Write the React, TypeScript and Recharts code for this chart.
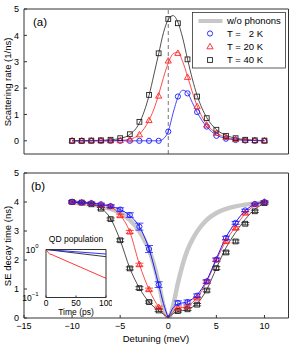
import React from "react";
import {
  ComposedChart,
  Line,
  Scatter,
  XAxis,
  YAxis,
  ReferenceLine,
  ErrorBar,
} from "recharts";

const FONT = '"Liberation Sans", Arial, Helvetica, sans-serif';
const BLUE = "#1a1aff";
const RED = "#ff2020";
const BLACK = "#222222";
const GRAY = "#c8c8c8";

// detuning (meV) where the markers sit
const detuning = [-10, -9, -8, -7, -6, -5, -4, -3, -2, -1, 0, 1, 2, 3, 4, 5, 6, 7, 8, 9, 10];
const detuningB = [-10, -9, -8, -7, -6, -5, -4, -3, -2, -1, 1, 2, 3, 4, 5, 6, 7, 8, 9, 10];

// (a) scattering rate markers (1/ns)
const rate2K = [0, 0, 0, 0, 0, 0, 0, 0, 0, 0, 0.35, 1.68, 1.8, 1.09, 0.54, 0.19, 0.08, 0.03, 0.01, 0, 0];
const rate20K = [0, 0, 0, 0, 0, 0.01, 0.04, 0.23, 0.77, 1.7, 3.03, 3.32, 2.41, 1.3, 0.6, 0.29, 0.13, 0.05, 0.02, 0.01, 0];
const rate40K = [0, 0, 0.01, 0.02, 0.04, 0.1, 0.25, 0.72, 1.74, 3.32, 4.62, 4.46, 3.09, 1.68, 0.86, 0.42, 0.19, 0.1, 0.04, 0.02, 0.01];

// (a) theory curves
const curveXA = [-10, -9, -8, -7, -6, -5, -4, -3, -2, -1.5, -1, -0.5, 0, 0.5, 1, 1.5, 2, 2.5, 3, 4, 5, 6, 7, 8, 9, 10];
const curve2K = [0, 0, 0, 0, 0, 0, 0, 0, 0, 0, 0, 0.08, 0.36, 1.05, 1.65, 1.92, 1.82, 1.45, 1.08, 0.53, 0.22, 0.09, 0.04, 0.02, 0.01, 0];
const curve20K = [0, 0, 0, 0, 0.005, 0.015, 0.06, 0.25, 0.78, 1.2, 1.75, 2.4, 2.95, 3.3, 3.36, 3.0, 2.45, 1.85, 1.32, 0.62, 0.3, 0.13, 0.06, 0.03, 0.01, 0];
const curve40K = [0, 0.005, 0.01, 0.02, 0.04, 0.09, 0.24, 0.68, 1.72, 2.5, 3.3, 4.1, 4.6, 4.75, 4.5, 3.9, 3.1, 2.35, 1.72, 0.88, 0.43, 0.21, 0.1, 0.05, 0.02, 0.01];

// (b) SE decay time markers (ns) and error bars
const se2K = [4.0, 3.98, 3.96, 3.92, 3.86, 3.74, 3.55, 3.15, 2.38, 1.15, 0.52, 0.55, 0.77, 1.26, 2.01, 2.76, 3.28, 3.71, 3.93, 4.0];
const err2K = [0.03, 0.03, 0.03, 0.04, 0.05, 0.06, 0.08, 0.12, 0.12, 0.1, 0.07, 0.07, 0.06, 0.06, 0.06, 0.06, 0.05, 0.04, 0.03, 0.03];
const se20K = [4.0, 3.98, 3.96, 3.9, 3.84, 3.53, 2.97, 1.84, 0.98, 0.37, 0.34, 0.4, 0.69, 1.25, 2.01, 2.64, 3.1, 3.62, 3.91, 4.0];
const err20K = [0.04, 0.04, 0.04, 0.04, 0.04, 0.05, 0.05, 0.05, 0.05, 0.04, 0.04, 0.04, 0.04, 0.05, 0.05, 0.05, 0.05, 0.04, 0.04, 0.04];
const se40K = [4.0, 3.98, 3.92, 3.77, 3.41, 2.68, 1.71, 1.03, 0.55, 0.26, 0.24, 0.3, 0.46, 0.95, 1.72, 2.26, 2.64, 3.25, 3.68, 3.96];
const err40K = [0.04, 0.04, 0.04, 0.04, 0.04, 0.05, 0.05, 0.05, 0.04, 0.04, 0.04, 0.04, 0.04, 0.05, 0.05, 0.05, 0.05, 0.04, 0.04, 0.04];

// (b) theory curves, split at zero detuning
const leftX = [-10, -9, -8, -7, -6, -5, -4, -3, -2, -1, -0.5, 0];
const rightX = [0, 0.5, 1, 2, 3, 4, 5, 6, 7, 8, 9, 10];
const se2KLeft = [4.0, 3.98, 3.96, 3.92, 3.86, 3.74, 3.53, 3.15, 2.38, 1.15, 0.5, 0];
const se2KRight = [0, 0.35, 0.48, 0.56, 0.8, 1.3, 2.05, 2.78, 3.3, 3.7, 3.92, 4.0];
const se20KLeft = [4.0, 3.98, 3.96, 3.91, 3.83, 3.55, 2.97, 1.85, 0.98, 0.38, 0.16, 0];
const se20KRight = [0, 0.22, 0.32, 0.42, 0.7, 1.25, 2.0, 2.66, 3.15, 3.6, 3.88, 4.0];
const se40KLeft = [4.0, 3.98, 3.93, 3.79, 3.43, 2.68, 1.72, 1.03, 0.55, 0.25, 0.13, 0];
const se40KRight = [0, 0.15, 0.22, 0.3, 0.5, 0.98, 1.72, 2.42, 2.95, 3.4, 3.75, 3.95];

// (b) without phonons
const bareX = [0, 0.25, 0.5, 1, 1.5, 2, 2.5, 3, 4, 5, 6, 7, 8, 9, 10];
const bareSE = [0, 0.12, 0.42, 1.2, 1.85, 2.35, 2.7, 2.98, 3.38, 3.62, 3.76, 3.85, 3.91, 3.95, 3.98];

// inset: QD population vs time (ps)
const popT2K = [0, 100];
const pop2K = [1.0, 0.805];
const popT20K = [0, 3, 6, 10, 13, 100];
const pop20K = [1.0, 0.88, 0.81, 0.78, 0.75, 0.251];
const popT40K = [0, 100];
const pop40K = [1.0, 0.708];

const xTicks = [-15, -10, -5, 0, 5, 10];
const yTicks = [0, 1, 2, 3, 4, 5];

const pts = (xs: number[], ys: number[], es?: number[]) =>
  xs.map((x, i) => ({ x, y: ys[i], e: es ? es[i] : 0 }));

const circle = (color: string) => (p: any) =>
  <circle cx={p.cx} cy={p.cy} r={2.6} fill="none" stroke={color} strokeWidth={0.9} />;
const triangle = (color: string) => (p: any) =>
  <path d={`M${p.cx},${p.cy - 3.3}L${p.cx - 3.1},${p.cy + 2.1}L${p.cx + 3.1},${p.cy + 2.1}Z`} fill="none" stroke={color} strokeWidth={0.9} />;
const square = (color: string) => (p: any) =>
  <rect x={p.cx - 2.4} y={p.cy - 2.4} width={4.8} height={4.8} fill="none" stroke={color} strokeWidth={0.9} />;

const minus = (v: number) => String(v).replace("-", "\u2212");
const tickStyle = { fontSize: 9, fill: "#000", fontFamily: FONT };

function Axes({ xLabels, yDomain }: { xLabels: boolean; yDomain: number[] }) {
  return null;
}

function frame(xLabels: boolean, yDomain: number[], xHeight: number) {
  return [
    <XAxis key="xb" dataKey="x" type="number" domain={[-15, 12.5]} ticks={xTicks} interval={0}
      tickFormatter={minus} tick={xLabels ? tickStyle : false} tickSize={-3} tickMargin={8}
      height={xHeight} stroke="#333" allowDataOverflow />,
    <XAxis key="xt" xAxisId="top" orientation="top" dataKey="x" type="number" domain={[-15, 12.5]}
      ticks={xTicks} interval={0} tick={false} tickSize={-3} height={1} stroke="#333" allowDataOverflow />,
    <YAxis key="yl" type="number" domain={yDomain} ticks={yTicks} interval={0} tick={tickStyle}
      tickSize={-3} tickMargin={8} width={24} stroke="#333" allowDataOverflow />,
    <YAxis key="yr" yAxisId="right" orientation="right" type="number" domain={yDomain} ticks={yTicks}
      interval={0} tick={false} tickSize={-3} width={1} stroke="#333" allowDataOverflow />,
  ];
}

const LogTick = (p: any) => {
  const exp = p.payload.value >= 1 ? "0" : "\u22121";
  return (
    <text x={p.x} y={p.y} textAnchor="end" dominantBaseline="central" fontSize={8.5} fontFamily={FONT} fill="#000">
      10<tspan dy={-3.5} fontSize={6}>{exp}</tspan>
    </text>
  );
};

export default function App() {
  return (
    <div style={{ position: "absolute", left: 0, top: 0, width: 291, height: 347, background: "#fff" }}>
      {/* panel (a) */}
      <div style={{ position: "absolute", left: 0, top: 0 }}>
        <ComposedChart width={291} height={165} margin={{ top: 8, right: 1.5, bottom: 0, left: 0 }}>
          {frame(false, [-0.5, 5], 11)}
          <ReferenceLine x={0} stroke="#666" strokeDasharray="4 3" strokeWidth={0.9} />
          <Line data={pts(curveXA, curve40K)} dataKey="y" type="monotone" stroke={BLACK} strokeWidth={0.8} dot={false} isAnimationActive={false} />
          <Line data={pts(curveXA, curve20K)} dataKey="y" type="monotone" stroke={RED} strokeWidth={0.8} dot={false} isAnimationActive={false} />
          <Line data={pts(curveXA, curve2K)} dataKey="y" type="monotone" stroke={BLUE} strokeWidth={0.8} dot={false} isAnimationActive={false} />
          <Scatter data={pts(detuning, rate2K)} dataKey="y" shape={circle(BLUE)} isAnimationActive={false} />
          <Scatter data={pts(detuning, rate20K)} dataKey="y" shape={triangle(RED)} isAnimationActive={false} />
          <Scatter data={pts(detuning, rate40K)} dataKey="y" shape={square(BLACK)} isAnimationActive={false} />
        </ComposedChart>
      </div>

      {/* panel (b) */}
      <div style={{ position: "absolute", left: 0, top: 165 }}>
        <ComposedChart width={291} height={182} margin={{ top: 7, right: 1.5, bottom: 0, left: 0 }}>
          {frame(true, [0, 5], 29)}
          <Line data={pts(bareX.map((v) => -v), bareSE)} dataKey="y" type="monotone" stroke={GRAY} strokeWidth={4.5} dot={false} isAnimationActive={false} />
          <Line data={pts(bareX, bareSE)} dataKey="y" type="monotone" stroke={GRAY} strokeWidth={4.5} dot={false} isAnimationActive={false} />
          <Line data={pts(leftX, se40KLeft)} dataKey="y" type="monotone" stroke={BLACK} strokeWidth={0.8} dot={false} isAnimationActive={false} />
          <Line data={pts(rightX, se40KRight)} dataKey="y" type="monotone" stroke={BLACK} strokeWidth={0.8} dot={false} isAnimationActive={false} />
          <Line data={pts(leftX, se20KLeft)} dataKey="y" type="monotone" stroke={RED} strokeWidth={0.8} dot={false} isAnimationActive={false} />
          <Line data={pts(rightX, se20KRight)} dataKey="y" type="monotone" stroke={RED} strokeWidth={0.8} dot={false} isAnimationActive={false} />
          <Line data={pts(leftX, se2KLeft)} dataKey="y" type="monotone" stroke={BLUE} strokeWidth={1} dot={false} isAnimationActive={false} />
          <Line data={pts(rightX, se2KRight)} dataKey="y" type="monotone" stroke={BLUE} strokeWidth={1} dot={false} isAnimationActive={false} />
          <Scatter data={pts(detuningB, se40K, err40K)} dataKey="y" shape={square(BLACK)} isAnimationActive={false}>
            <ErrorBar dataKey="e" direction="y" width={4} stroke={BLACK} strokeWidth={0.8} />
          </Scatter>
          <Scatter data={pts(detuningB, se20K, err20K)} dataKey="y" shape={triangle(RED)} isAnimationActive={false}>
            <ErrorBar dataKey="e" direction="y" width={4} stroke={RED} strokeWidth={0.8} />
          </Scatter>
          <Scatter data={pts(detuningB, se2K, err2K)} dataKey="y" shape={circle(BLUE)} isAnimationActive={false}>
            <ErrorBar dataKey="e" direction="y" width={4} stroke={BLUE} strokeWidth={0.8} />
          </Scatter>
        </ComposedChart>
      </div>

      {/* inset */}
      <div style={{ position: "absolute", left: 20, top: 235 }}>
        <ComposedChart width={92} height={85} margin={{ top: 13.5, right: 5, bottom: 0, left: 0 }}>
          <XAxis dataKey="x" type="number" domain={[0, 100]} ticks={[0, 50, 100]} interval={0}
            tick={{ fontSize: 8.5, fill: "#000", fontFamily: FONT }} tickSize={-2} tickMargin={4}
            height={22.5} stroke="#333" />
          <XAxis xAxisId="top" orientation="top" dataKey="x" type="number" domain={[0, 100]} ticks={[0, 50, 100]}
            tick={false} tickSize={-2} height={1} stroke="#333" />
          <YAxis scale="log" type="number" domain={[0.1, 1]} ticks={[0.1, 1]} interval={0} tick={<LogTick />}
            tickSize={-2} tickMargin={9.5} width={26} stroke="#333" allowDataOverflow />
          <YAxis yAxisId="right" orientation="right" scale="log" type="number" domain={[0.1, 1]} ticks={[0.1, 1]}
            tick={false} tickSize={-2} width={1} stroke="#333" allowDataOverflow />
          <Line data={pts(popT40K, pop40K)} dataKey="y" type="linear" stroke={BLACK} strokeWidth={0.9} dot={false} isAnimationActive={false} />
          <Line data={pts(popT2K, pop2K)} dataKey="y" type="linear" stroke={BLUE} strokeWidth={0.9} dot={false} isAnimationActive={false} />
          <Line data={pts(popT20K, pop20K)} dataKey="y" type="linear" stroke={RED} strokeWidth={0.9} dot={false} isAnimationActive={false} />
        </ComposedChart>
      </div>

      {/* labels and legend */}
      <svg width={291} height={347} style={{ position: "absolute", left: 0, top: 0, pointerEvents: "none" }} fontFamily={FONT}>
        <text transform="translate(7,82) rotate(-90)" textAnchor="middle" dominantBaseline="central" fontSize={9.5}>
          Scattering rate (1/ns)
        </text>
        <text transform="translate(7,246) rotate(-90)" textAnchor="middle" dominantBaseline="central" fontSize={9.5}>
          SE decay time (ns)
        </text>
        <text x={33} y={26} fontSize={11.5}>(a)</text>
        <text x={31} y={189.5} fontSize={11.5}>(b)</text>
        <text x={156} y={342} textAnchor="middle" fontSize={9.5}>Detuning (meV)</text>
        <text x={76} y={242} textAnchor="middle" fontSize={8.5}>QD population</text>
        <text x={76} y={315} textAnchor="middle" fontSize={8.5}>Time (ps)</text>

        <rect x={192.5} y={12.5} width={93} height={55.5} fill="#fff" stroke="#333" strokeWidth={0.8} />
        <line x1={198.5} y1={21} x2={222.5} y2={21} stroke={GRAY} strokeWidth={4} />
        <text x={227} y={24.3} fontSize={9.5}>w/o phonons</text>
        {circle(BLUE)({ cx: 210, cy: 33.5 })}
        <text x={227} y={36.8} fontSize={9.5} style={{ whiteSpace: "pre" }}>T =   2 K</text>
        {triangle(RED)({ cx: 210, cy: 46.7 })}
        <text x={227} y={50} fontSize={9.5}>T = 20 K</text>
        {square(BLACK)({ cx: 210, cy: 60 })}
        <text x={227} y={63.3} fontSize={9.5}>T = 40 K</text>
      </svg>
    </div>
  );
}
